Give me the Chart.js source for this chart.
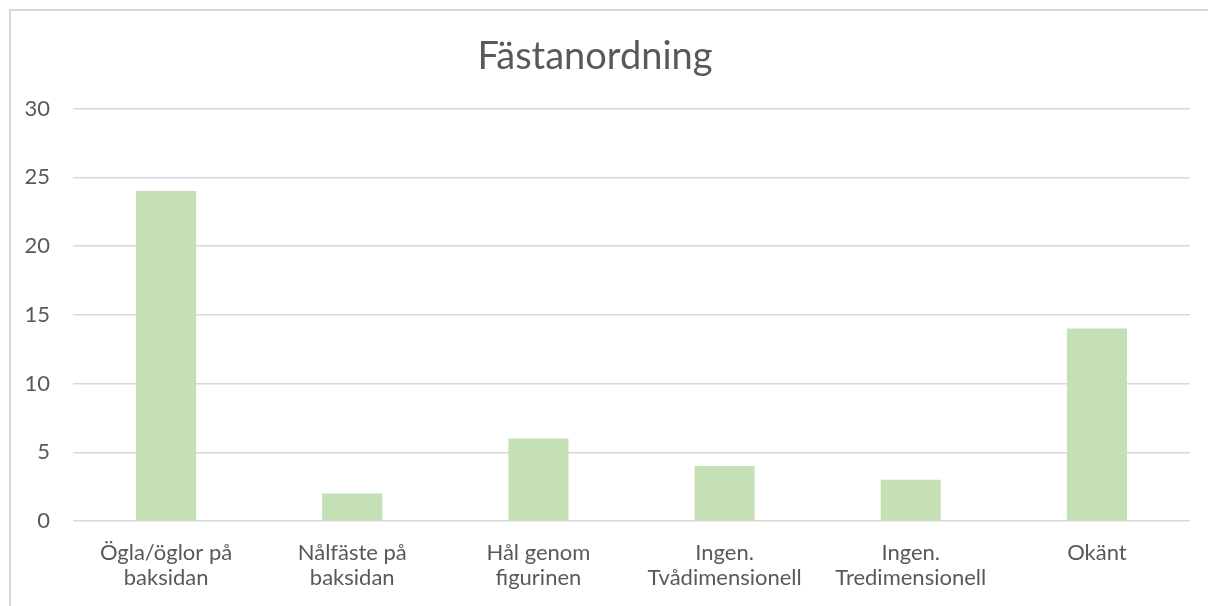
<!DOCTYPE html>
<html>
<head>
<meta charset="utf-8">
<script src="https://cdn.jsdelivr.net/npm/chart.js@4"></script>
<style>
    html, body { margin: 0; padding: 0; background: #fff; }
    #wrap { position: relative; width: 1208px; height: 606px; overflow: hidden; }
    #frame {
        position: absolute; left: 9px; top: 9px; width: 1300px; height: 700px;
        border-left: 2px solid #d9d9d9; border-top: 2px solid #d9d9d9;
    }
    #chart { position: absolute; left: 0; top: 0; }
</style>
</head>
<body>
<div id="wrap">
    <div id="frame"></div>
    <canvas id="chart" width="1208" height="606"></canvas>
</div>
<script>
const chartTitle = "Fästanordning";
const categories = [
    ["Ögla/öglor på", "baksidan"],
    ["Nålfäste på", "baksidan"],
    ["Hål genom", "figurinen"],
    ["Ingen.", "Tvådimensionell"],
    ["Ingen.", "Tredimensionell"],
    ["Okänt"]
];
const counts = [24, 2, 6, 4, 3, 14];
const yTicks = [0, 5, 10, 15, 20, 25, 30];

const textColor = "#595959";
const fontFamily = "Lato, 'Open Sans', sans-serif";

new Chart(document.getElementById("chart"), {
    type: "bar",
    data: {
        labels: categories,
        datasets: [{
            label: chartTitle,
            data: counts,
            backgroundColor: "#c5e0b4",
            borderWidth: 0,
            categoryPercentage: 1,
            barPercentage: 0.323
        }]
    },
    options: {
        responsive: false,
        animation: false,
        layout: {
            padding: { left: 0, right: 18, top: 0, bottom: 0 }
        },
        plugins: {
            legend: { display: false },
            tooltip: { enabled: false },
            title: {
                display: true,
                text: chartTitle,
                color: textColor,
                font: { family: fontFamily, size: 38, weight: "normal", lineHeight: 1.2 },
                padding: { top: 34, bottom: 29 }
            }
        },
        scales: {
            x: {
                grid: { display: false, drawTicks: false },
                border: { display: false },
                ticks: {
                    color: textColor,
                    font: { family: fontFamily, size: 22, lineHeight: 1.15 },
                    padding: 19,
                    maxRotation: 0,
                    autoSkip: false
                },
                afterFit: scale => { scale.height = 85; }
            },
            y: {
                min: 0,
                max: 30,
                afterBuildTicks: scale => {
                    scale.ticks = yTicks.map(v => ({ value: v }));
                },
                grid: { color: "#d9d9d9", lineWidth: 1.5, drawTicks: false },
                border: { display: false },
                ticks: {
                    color: textColor,
                    font: { family: fontFamily, size: 22 },
                    padding: 23
                },
                afterFit: scale => { scale.width = 73; }
            }
        }
    }
});
</script>
</body>
</html>
